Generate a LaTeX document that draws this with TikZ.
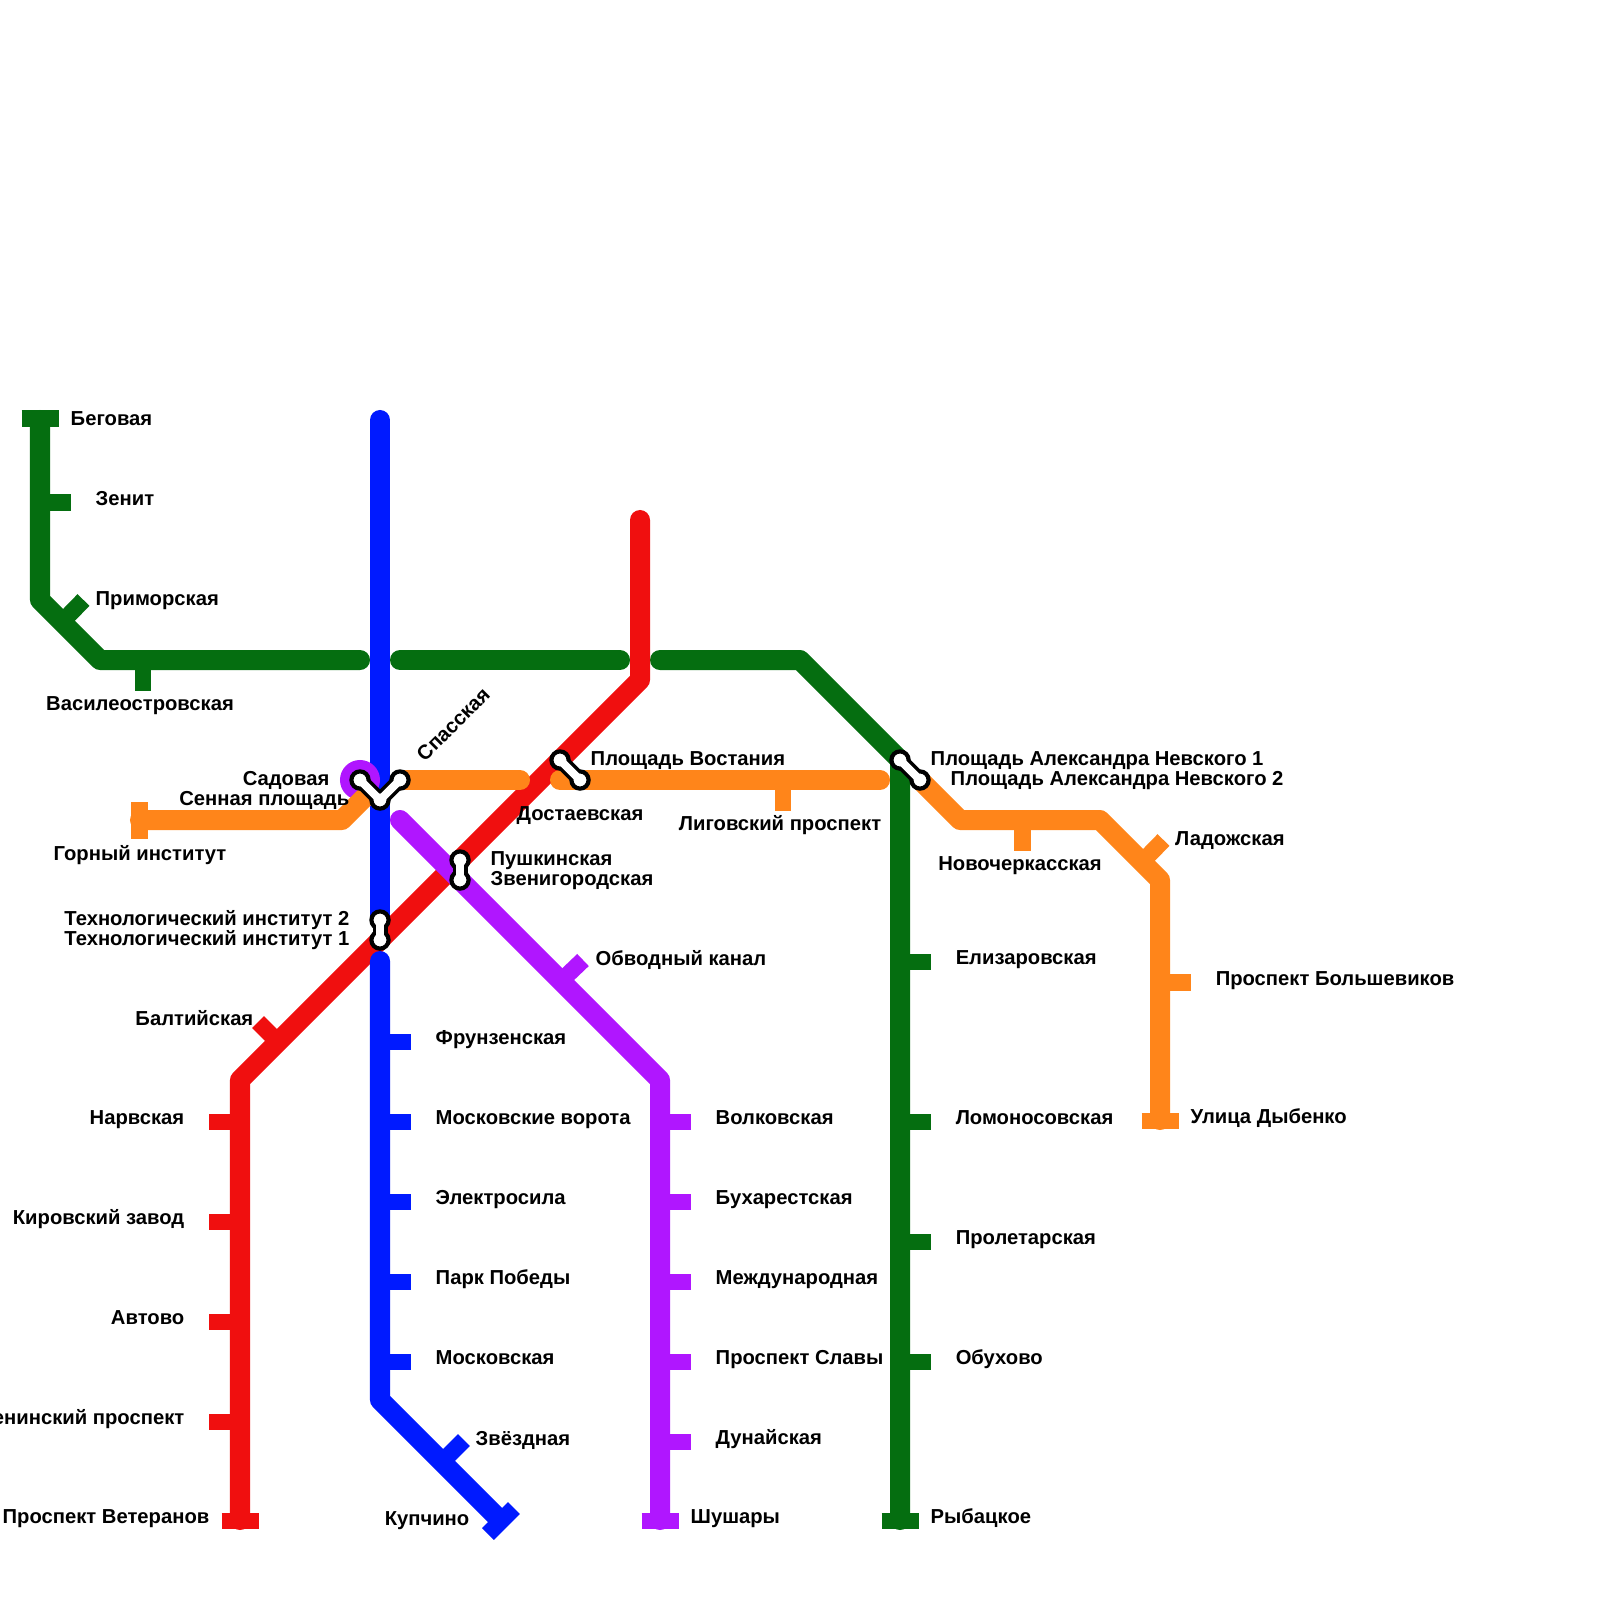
\documentclass[tikz,border=0pt]{standalone}
\usepackage{fontspec}
\setmainfont{Liberation Sans}
\usetikzlibrary{positioning}
\definecolor{lgreen}{HTML}{056E10}
\definecolor{lred}{HTML}{F00F0F}
\definecolor{lblue}{HTML}{001AFF}
\definecolor{lpurple}{HTML}{B016FF}
\definecolor{lorange}{HTML}{FF851A}

\begin{document}
\begin{tikzpicture}[
  x=0.01cm, y=-0.01cm,
  ln/.style={line width=2mm, line cap=round, line join=round},
  tick/.style={line width=1.67mm},
  lbl/.style={font=\bfseries\fontsize{5.75}{7}\selectfont, inner sep=0pt, text height=1.43mm, text depth=0pt},
  stl/.style={lbl, yshift=0.045cm},
  stn/.style={circle, draw=black, fill=white, line width=0.42mm, minimum size=0.172cm, inner sep=0pt},
  linkout/.style={black, line width=1.5mm, line join=round},
  linkin/.style={white, line width=0.8mm, line join=round}
]
\useasboundingbox (0,0) rectangle (1600,1600);

% green
\coordinate (beg) at (40,418.5);
\coordinate (zen) at (40,502.5);
\coordinate (prim) at (62,622);
\coordinate (vas) at (143,660);
\coordinate (eliz) at (900,962);
\coordinate (lomo) at (900,1122);
\coordinate (prol) at (900,1242);
\coordinate (obuh) at (900,1362);
\coordinate (ryb) at (900,1521);
\draw[ln, lgreen] (40,420) -- (40,600) -- (100,660) -- (360,660);
\draw[ln, lgreen] (400,660) -- (620,660);
\draw[ln, lgreen] (660,660) -- (800,660) -- (900,760) -- (900,1520);
\draw[tick, lgreen] (beg) +(-18.5,0) -- +(18.5,0);
\draw[tick, lgreen] (zen) -- ++(31,0);
\draw[tick, lgreen] (prim) -- ++(21.5,-22);
\draw[tick, lgreen] (vas) -- ++(0,31);
\draw[tick, lgreen] (eliz) -- ++(31,0);
\draw[tick, lgreen] (lomo) -- ++(31,0);
\draw[tick, lgreen] (prol) -- ++(31,0);
\draw[tick, lgreen] (obuh) -- ++(31,0);
\draw[tick, lgreen] (ryb) +(-18.5,0) -- +(18.5,0);

% red
\coordinate (balt) at (278,1042);
\coordinate (narv) at (240,1122);
\coordinate (kir) at (240,1222);
\coordinate (avt) at (240,1322);
\coordinate (len) at (240,1422);
\coordinate (vet) at (240,1521);
\draw[ln, lred] (640,520) -- (640,680) -- (240,1080) -- (240,1520);
\draw[tick, lred] (balt) -- ++(-20,-20);
\draw[tick, lred] (narv) -- ++(-31,0);
\draw[tick, lred] (kir) -- ++(-31,0);
\draw[tick, lred] (avt) -- ++(-31,0);
\draw[tick, lred] (len) -- ++(-31,0);
\draw[tick, lred] (vet) +(-18.5,0) -- +(18.5,0);

% blue
\coordinate (fru) at (380,1042);
\coordinate (mvor) at (380,1122);
\coordinate (ele) at (380,1202);
\coordinate (park) at (380,1282);
\coordinate (mosk) at (380,1362);
\coordinate (zve) at (442,1462);
\coordinate (kup) at (501,1521);
\draw[ln, lblue] (380,420) -- (380,920);
\draw[ln, lblue] (380,961) -- (380,1400) -- (497,1517);
\draw[tick, lblue] (fru) -- ++(31,0);
\draw[tick, lblue] (mvor) -- ++(31,0);
\draw[tick, lblue] (ele) -- ++(31,0);
\draw[tick, lblue] (park) -- ++(31,0);
\draw[tick, lblue] (mosk) -- ++(31,0);
\draw[tick, lblue] (zve) -- ++(22,-22);
\draw[tick, lblue] (kup) +(13,-13) -- +(-13,13);

% purple
\coordinate (obv) at (561,981);
\coordinate (volk) at (660,1122);
\coordinate (buh) at (660,1202);
\coordinate (mezh) at (660,1282);
\coordinate (slav) at (660,1362);
\coordinate (dun) at (660,1442);
\coordinate (shu) at (660,1521);
\fill[lpurple] (360,780) circle (0.2cm);
\draw[ln, lpurple] (400,820) -- (660,1080) -- (660,1520);
\draw[tick, lpurple] (obv) -- ++(22,-21);
\draw[tick, lpurple] (volk) -- ++(31,0);
\draw[tick, lpurple] (buh) -- ++(31,0);
\draw[tick, lpurple] (mezh) -- ++(31,0);
\draw[tick, lpurple] (slav) -- ++(31,0);
\draw[tick, lpurple] (dun) -- ++(31,0);
\draw[tick, lpurple] (shu) +(-18.5,0) -- +(18.5,0);

% orange
\coordinate (gor) at (139.5,820.5);
\coordinate (ligo) at (783,780);
\coordinate (novo) at (1022.5,820);
\coordinate (lado) at (1142,862);
\coordinate (bols) at (1160,982.5);
\coordinate (dyb) at (1160,1121);
\draw[ln, lorange] (140,820) -- (342,820) -- (364,798);
\draw[ln, lorange] (400,780) -- (520,780);
\draw[ln, lorange] (560,780) -- (880,780);
\draw[ln, lorange] (920,780) -- (960,820) -- (1100,820) -- (1160,880) -- (1160,1120);
\draw[tick, lorange] (gor) +(0,-18.5) -- +(0,18.5);
\draw[tick, lorange] (ligo) -- ++(0,31);
\draw[tick, lorange] (novo) -- ++(0,31);
\draw[tick, lorange] (lado) -- ++(21.5,-22);
\draw[tick, lorange] (bols) -- ++(31,0);
\draw[tick, lorange] (dyb) +(-18.5,0) -- +(18.5,0);

% transfers
\coordinate (sad) at (360,780);
\coordinate (sen) at (380,800);
\coordinate (spa) at (400,780);
\coordinate (vos) at (560,760);
\coordinate (dos) at (580,780);
\coordinate (push) at (460,860);
\coordinate (zven) at (460,880);
\coordinate (tech2) at (380,920);
\coordinate (tech1) at (380,940);
\coordinate (nev1) at (900,760);
\coordinate (nev2) at (920,780);
\draw[linkout] (sad) -- (sen) -- (spa);
\draw[linkout] (vos) -- (dos);
\draw[linkout] (push) -- (zven);
\draw[linkout] (tech2) -- (tech1);
\draw[linkout] (nev1) -- (nev2);
\node[stn] (sadn) at (sad) {};
\node[stn] (senn) at (sen) {};
\node[stn] (span) at (spa) {};
\node[stn] (vosn) at (vos) {};
\node[stn] (dosn) at (dos) {};
\node[stn] (pushn) at (push) {};
\node[stn] (zvenn) at (zven) {};
\node[stn] (tech2n) at (tech2) {};
\node[stn] (tech1n) at (tech1) {};
\node[stn] (nev1n) at (nev1) {};
\node[stn] (nev2n) at (nev2) {};
\draw[linkin] (sad) -- (sen) -- (spa);
\draw[linkin] (vos) -- (dos);
\draw[linkin] (push) -- (zven);
\draw[linkin] (tech2) -- (tech1);
\draw[linkin] (nev1) -- (nev2);

% labels
\node[lbl, right=0.3cm of beg] (begl) {Беговая};
\node[stl, right=0.55cm of zen] (zenl) {Зенит};
\node[lbl, anchor=west] (priml) at (95,598) {Приморская};
\node[lbl] (vasl) at (140,703) {Василеостровская};
\node[lbl, anchor=east] (sadl) at (330,778) {Садовая};
\node[lbl, anchor=east] (senl) at (350,798) {Сенная площадь};
\node[lbl, rotate=45] (spal) at (453,724) {Спасская};
\node[lbl] (gorl) at (140,853) {Горный институт};
\node[lbl] (dosl) at (580,813) {Достаевская};
\node[lbl] (ligol) at (780,823) {Лиговский проспект};
\node[lbl] (novol) at (1020,863) {Новочеркасская};
\node[lbl, anchor=west] (vosl) at (590,758) {Площадь Востания};
\node[lbl, anchor=west] (nev1l) at (930,758) {Площадь Александра Невского 1};
\node[lbl, anchor=west] (nev2l) at (950,778) {Площадь Александра Невского 2};
\node[lbl, anchor=west] (ladol) at (1174.5,838) {Ладожская};
\node[stl, right=0.55cm of bols] (bolsl) {Проспект Большевиков};
\node[stl, right=0.3cm of dyb] (dybl) {Улица Дыбенко};
\node[stl, right=0.55cm of eliz] (elizl) {Елизаровская};
\node[stl, right=0.55cm of lomo] (lomol) {Ломоносовская};
\node[stl, right=0.55cm of prol] (proll) {Пролетарская};
\node[stl, right=0.55cm of obuh] (obuhl) {Обухово};
\node[stl, right=0.3cm of ryb] (rybl) {Рыбацкое};
\node[lbl, anchor=west] (pushl) at (490,858) {Пушкинская};
\node[lbl, anchor=west] (zvenl) at (490,878) {Звенигородская};
\node[lbl, anchor=west] (obvl) at (595,958) {Обводный канал};
\node[stl, right=0.55cm of volk] (volkl) {Волковская};
\node[stl, right=0.55cm of buh] (buhl) {Бухарестская};
\node[stl, right=0.55cm of mezh] (mezhl) {Международная};
\node[stl, right=0.55cm of slav] (slavl) {Проспект Славы};
\node[stl, right=0.55cm of dun] (dunl) {Дунайская};
\node[stl, right=0.3cm of shu] (shul) {Шушары};
\node[stl, right=0.55cm of fru] (frul) {Фрунзенская};
\node[stl, right=0.55cm of mvor] (mvorl) {Московские ворота};
\node[stl, right=0.55cm of ele] (elel) {Электросила};
\node[stl, right=0.55cm of park] (parkl) {Парк Победы};
\node[stl, right=0.55cm of mosk] (moskl) {Московская};
\node[lbl, anchor=west] (zvel) at (475,1438) {Звёздная};
\node[lbl, anchor=east] (kupl) at (470,1518) {Купчино};
\node[lbl, anchor=east] (baltl) at (254,1018) {Балтийская};
\node[stl, left=0.55cm of narv] (narvl) {Нарвская};
\node[stl, left=0.55cm of kir] (kirl) {Кировский завод};
\node[stl, left=0.55cm of avt] (avtl) {Автово};
\node[stl, left=0.55cm of len] (lenl) {Ленинский проспект};
\node[stl, left=0.3cm of vet] (vetl) {Проспект Ветеранов};
\node[lbl, anchor=east] (tech2l) at (350,918) {Технологический институт 2};
\node[lbl, anchor=east] (tech1l) at (350,938) {Технологический институт 1};
\end{tikzpicture}
\end{document}
